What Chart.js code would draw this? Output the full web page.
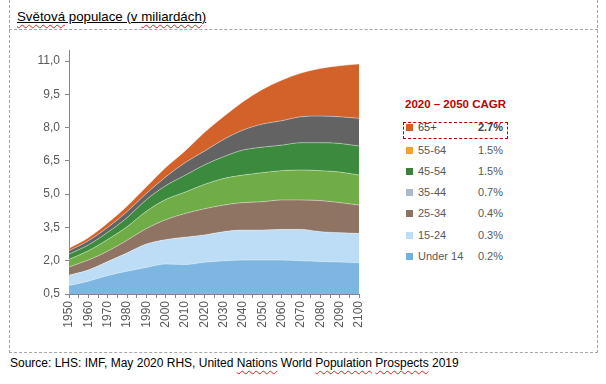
<!DOCTYPE html>
<html>
<head>
<meta charset="utf-8">
<script src="https://cdn.jsdelivr.net/npm/chart.js@4/dist/chart.umd.min.js"></script>
<style>
    body {
        margin: 0;
        width: 606px;
        height: 384px;
        background: #fff;
        position: relative;
        overflow: hidden;
        font-family: 'Liberation Sans', Arial, sans-serif;
    }
    .abs { position: absolute; }
    #frame { left: 9px; top: -5px; width: 587px; height: 356px; border: 1px dashed #a6a6a6; }
    #divider { left: 9px; top: 29px; width: 589px; border-top: 1px dashed #a6a6a6; }
    #title { left: 17px; top: 8px; font-size: 13.3px; line-height: 17px; color: #000; text-decoration: underline; }
    .spell { text-decoration: underline wavy #e02020; text-underline-offset: 3px; text-decoration-thickness: 1px; }
    #source { left: 10px; top: 356px; font-size: 12px; line-height: 14px; color: #000; }
    #cagr-title { left: 405px; top: 97px; font-size: 11.5px; line-height: 14px; font-weight: bold; color: #c00000; }
    #highlight { left: 403px; top: 122px; width: 103px; height: 15px; border: 1px dashed #c00000; }
    .row { left: 405px; width: 98px; height: 14px; font-size: 11px; line-height: 14px; color: #595959; }
    .row .sq { position: absolute; left: 1px; top: 4px; width: 7px; height: 7px; }
    .row .lbl { position: absolute; left: 13px; top: 0; }
    .row .pct { position: absolute; right: 0; top: 0; }
    canvas { position: absolute; left: 0; top: 30px; }
</style>
</head>
<body>
<div id="frame" class="abs"></div>
<div id="divider" class="abs"></div>
<div id="title" class="abs"><span class="spell">Světová</span> populace (v <span class="spell">miliardách</span>)</div>
<div id="cagr-title" class="abs">2020 – 2050 CAGR</div>
<div id="highlight" class="abs"></div>
<div id="legend"></div>
<canvas id="population-chart" width="380" height="320"></canvas>
<div id="source" class="abs">Source: LHS: IMF, May 2020 RHS, United <span class="spell">Nations</span> World <span class="spell">Population</span> <span class="spell">Prospects</span> 2019</div>

<script>
// world population by age group, billions
const years = [1950, 1960, 1970, 1980, 1990, 2000, 2010, 2020, 2030, 2040, 2050, 2060, 2070, 2080, 2090, 2100];
const under14 = [0.88, 1.08, 1.33, 1.53, 1.70, 1.85, 1.83, 1.93, 2.00, 2.03, 2.03, 2.03, 2.00, 1.97, 1.94, 1.91];
const age15to24 = [0.47, 0.50, 0.63, 0.82, 1.05, 1.10, 1.23, 1.23, 1.31, 1.35, 1.35, 1.38, 1.41, 1.34, 1.32, 1.32];
const age25to34 = [0.37, 0.45, 0.47, 0.57, 0.70, 0.90, 1.07, 1.18, 1.20, 1.24, 1.28, 1.33, 1.33, 1.40, 1.36, 1.28];
const age35to44 = [0.34, 0.42, 0.53, 0.61, 0.78, 0.91, 0.96, 1.10, 1.20, 1.24, 1.31, 1.32, 1.35, 1.35, 1.38, 1.35];
const age45to54 = [0.24, 0.26, 0.32, 0.41, 0.52, 0.62, 0.76, 0.88, 0.98, 1.13, 1.15, 1.15, 1.23, 1.26, 1.29, 1.31];
const age55to64 = [0.15, 0.19, 0.22, 0.27, 0.28, 0.40, 0.57, 0.62, 0.78, 0.90, 1.04, 1.10, 1.17, 1.20, 1.20, 1.25];
const age65plus = [0.11, 0.14, 0.20, 0.25, 0.30, 0.42, 0.53, 0.84, 1.03, 1.28, 1.56, 1.83, 1.97, 2.15, 2.30, 2.45];

const yTicks = [0.5, 2.0, 3.5, 5.0, 6.5, 8.0, 9.5, 11.0];
const xTicks = [1950, 1955, 1960, 1965, 1970, 1975, 1980, 1985, 1990, 1995, 2000, 2005, 2010, 2015,
    2020, 2025, 2030, 2035, 2040, 2045, 2050, 2055, 2060, 2065, 2070, 2075, 2080, 2085, 2090, 2095, 2100];

// right-hand table, top to bottom
const cagrGroups = ['65+', '55-64', '45-54', '35-44', '25-34', '15-24', 'Under 14'];
const cagrValues = ['2.7%', '1.5%', '1.5%', '0.7%', '0.4%', '0.3%', '0.2%'];
const cagrColors = ['#d35f27', '#f0a22e', '#3b7f3b', '#adb9ca', '#8c7262', '#bddef6', '#74b0de'];
const cagrRowY = [127, 150, 171, 192, 213, 235, 256];

const series = [
    { label: 'Under 14', data: under14, color: '#7db6e0' },
    { label: '15-24', data: age15to24, color: '#bddcf5' },
    { label: '25-34', data: age25to34, color: '#8f7464' },
    { label: '35-44', data: age35to44, color: '#70ad47' },
    { label: '45-54', data: age45to54, color: '#3b8a3e' },
    { label: '55-64', data: age55to64, color: '#636363' },
    { label: '65+', data: age65plus, color: '#d2622a' },
];

function buildLegend() {
    const box = document.getElementById('legend');
    cagrGroups.forEach((g, i) => {
        const row = document.createElement('div');
        row.className = 'row abs';
        row.style.top = `${cagrRowY[i] - 7}px`;
        const bold = i === 0 ? 'font-weight:bold;color:#404040;' : '';
        row.innerHTML = `<span class="sq" style="background:${cagrColors[i]}"></span>` +
            `<span class="lbl" style="${i === 0 ? 'color:#404040;' : ''}">${g}</span>` +
            `<span class="pct" style="${bold}">${cagrValues[i]}</span>`;
        box.appendChild(row);
    });
}

const axisColor = '#868686';
const tickFont = { family: "'Liberation Sans', Arial, sans-serif", size: 12 };

function initChart() {
    const ctx = document.getElementById('population-chart').getContext('2d');
    new Chart(ctx, {
        type: 'line',
        data: {
            datasets: series.map((s, i) => ({
                label: s.label,
                data: years.map((yr, j) => ({ x: yr, y: s.data[j] })),
                backgroundColor: s.color,
                borderColor: 'rgba(255, 255, 255, 0.55)',
                borderWidth: 0.7,
                pointRadius: 0,
                fill: i === 0 ? 'origin' : '-1',
                cubicInterpolationMode: 'monotone',
            })),
        },
        options: {
            responsive: false,
            animation: false,
            devicePixelRatio: 1,
            layout: { padding: { top: 20, right: 21, left: 0, bottom: 0 } },
            plugins: {
                legend: { display: false },
                tooltip: { enabled: false },
            },
            scales: {
                x: {
                    type: 'linear',
                    min: 1950,
                    max: 2100,
                    afterBuildTicks: (scale) => {
                        scale.ticks = xTicks.map((v) => ({ value: v }));
                    },
                    afterFit: (scale) => {
                        scale.height = 56;
                    },
                    grid: { display: true, drawOnChartArea: false, tickLength: 4, color: axisColor },
                    border: { display: true, color: axisColor },
                    ticks: {
                        autoSkip: false,
                        minRotation: 90,
                        maxRotation: 90,
                        padding: 3,
                        color: '#595959',
                        font: tickFont,
                        callback: (v) => (v % 10 === 0 ? String(v) : ''),
                    },
                },
                y: {
                    stacked: true,
                    min: 0.5,
                    max: 11.5,
                    afterBuildTicks: (scale) => {
                        scale.ticks = yTicks.map((v) => ({ value: v }));
                    },
                    afterFit: (scale) => {
                        scale.width = 69;
                    },
                    grid: { display: true, drawOnChartArea: false, tickLength: 4, color: axisColor },
                    border: { display: true, color: axisColor },
                    ticks: {
                        padding: 5,
                        color: '#595959',
                        font: tickFont,
                        callback: (v) => Number(v).toFixed(1).replace('.', ','),
                    },
                },
            },
        },
    });
}

buildLegend();
initChart();
</script>
</body>
</html>
